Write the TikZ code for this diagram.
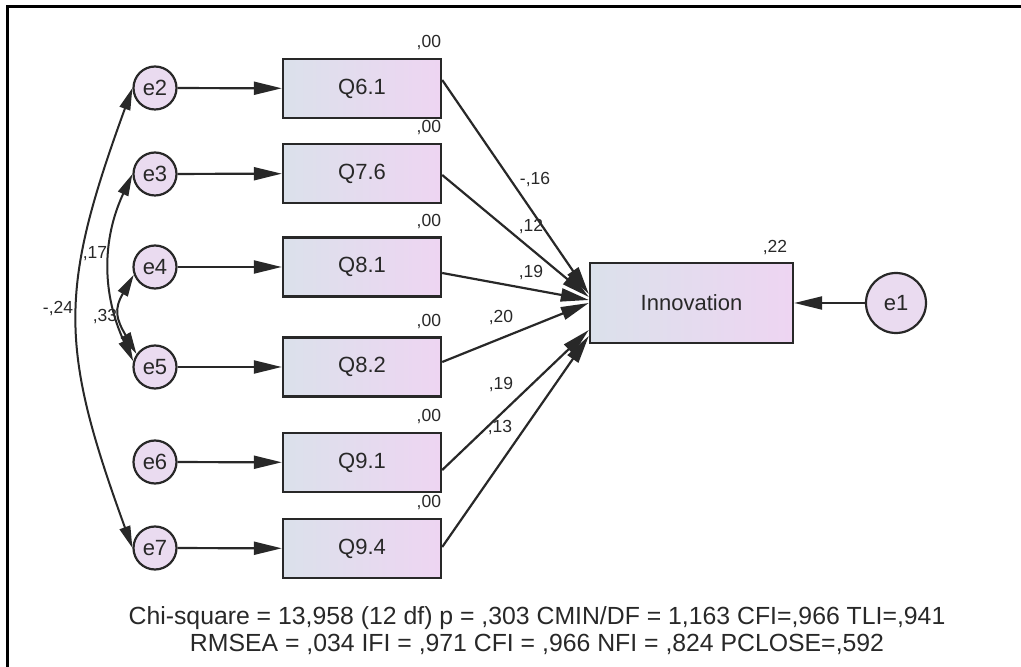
\documentclass[tikz,border=0pt]{standalone}
\usepackage{fontspec}
\setmainfont{Liberation Sans}
\usetikzlibrary{arrows.meta}

\definecolor{ink}{RGB}{40,40,40}
\definecolor{boxleft}{RGB}{219,225,235}
\definecolor{boxright}{RGB}{238,213,242}
\definecolor{errfill}{RGB}{234,219,240}

\begin{document}
\begin{tikzpicture}[x=1pt, y=1pt,
    obs/.style={draw=ink, line width=2.4pt, left color=boxleft, right color=boxright,
        minimum width=158pt, minimum height=59pt, inner sep=0pt, text=ink,
        font=\fontsize{22}{26}\selectfont},
    err/.style={circle, draw=ink, line width=2.2pt, fill=errfill, minimum size=43pt,
        inner sep=0pt, text=ink, font=\fontsize{22}{26}\selectfont},
    est/.style={inner sep=0pt, text=ink, font=\fontsize{17.5}{20}\selectfont},
    fitline/.style={inner sep=0pt, anchor=base, text=ink, font=\fontsize{24.8}{27}\selectfont},
    reg/.style={draw=ink, line width=2.2pt, -{Triangle[length=28pt, width=13pt]}},
    cov/.style={draw=ink, line width=2pt,
        {Triangle[length=22pt, width=11pt]}-{Triangle[length=22pt, width=11pt]}},
]

    \useasboundingbox (0,0) rectangle (1021,667);
    \draw[line width=3pt] (7,0) -- (7,660) -- (1030,660);

    \node[err] (e2) at (155,579) {e2};
    \node[err] (e3) at (155,493) {e3};
    \node[err] (e4) at (155,400) {e4};
    \node[err] (e5) at (155,300) {e5};
    \node[err] (e6) at (155,205) {e6};
    \node[err] (e7) at (155,119) {e7};

    \node[obs] (q61) at (362,578.5) {Q6.1};
    \node[obs] (q76) at (362,493.5) {Q7.6};
    \node[obs] (q81) at (362,400) {Q8.1};
    \node[obs] (q82) at (362,300) {Q8.2};
    \node[obs] (q91) at (362,204.5) {Q9.1};
    \node[obs] (q94) at (362,118.5) {Q9.4};

    \node[obs, minimum width=203pt, minimum height=80pt] (inno) at (691.5,364) {Innovation};
    \node[err, minimum size=60pt] (e1) at (896,364) {e1};

    \draw[reg] (e2) -- (q61);
    \draw[reg] (e3) -- (q76);
    \draw[reg] (e4) -- (q81);
    \draw[reg] (e5) -- (q82);
    \draw[reg] (e6) -- (q91);
    \draw[reg] (e7) -- (q94);
    \draw[reg] (e1) -- (inno);

    \draw[reg] ([yshift=8.5pt]q61.east) -- ([yshift=9pt]inno.west);
    \draw[reg] ([yshift=-1.5pt]q76.east) -- ([yshift=6pt]inno.west);
    \draw[reg] ([yshift=-6pt]q81.east) -- ([yshift=3pt]inno.west);
    \draw[reg] ([yshift=5pt]q82.east) -- (inno.west);
    \draw[reg] ([yshift=-7.5pt]q91.east) -- ([yshift=-27pt]inno.west);
    \draw[reg] ([yshift=1.5pt]q94.east) -- ([yshift=-33pt]inno.west);

    \draw[cov] (e2.west) to[out=250, in=110, looseness=1.2] (e7.west);
    \draw[cov] (e3.west) to[out=245, in=115] (e5.165);
    \draw[cov] (e4.200) to[out=240, in=120, looseness=1.3] (e5.145);

    \foreach \b in {q61,q76,q81,q82,q91,q94}
        \node[est, anchor=base east] (r\b) at ([xshift=-1pt, yshift=10pt]\b.north east) {,00};
    \node[est] (rinno) at (775,419) {,22};

    \node[est] (w61) at (535,487) {-,16};
    \node[est] (w76) at (531,440) {,12};
    \node[est] (w81) at (531,394) {,19};
    \node[est] (w82) at (501,349) {,20};
    \node[est] (w91) at (501,282) {,19};
    \node[est] (w94) at (500,239) {,13};

    \node[est] (c27) at (58,358) {-,24};
    \node[est] (c35) at (95,413) {,17};
    \node[est] (c45) at (105,350) {,33};

    \node[fitline] (fitA) at (537,42)
        {Chi-square = 13,958 (12 df) p = ,303 CMIN/DF = 1,163 CFI=,966 TLI=,941};
    \node[fitline] (fitB) at (537,15)
        {RMSEA = ,034 IFI = ,971 CFI = ,966 NFI = ,824 PCLOSE=,592};

\end{tikzpicture}
\end{document}
